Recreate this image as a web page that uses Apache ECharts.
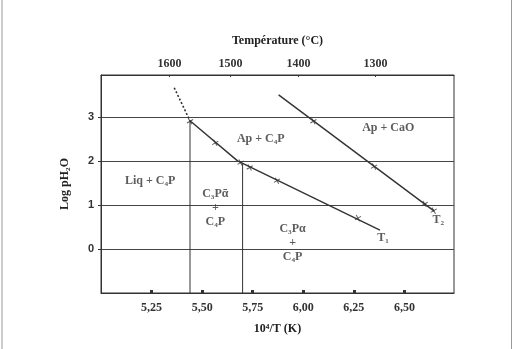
<!DOCTYPE html>
<html>
<head>
<meta charset="utf-8">
<script src="https://cdn.jsdelivr.net/npm/echarts@6/dist/echarts.min.js"></script>
<style>
  html, body { margin: 0; padding: 0; background: #fff; }
  #chart { width: 514px; height: 349px; }
</style>
</head>
<body>
<div id="chart"></div>
<script>
// axis ticks
const xTicks = [5.25, 5.5, 5.75, 6.0, 6.25, 6.5];
const yTicks = [0, 1, 2, 3];
const tempTicks = [1600, 1500, 1400, 1300];

// boundary curves (10^4/T, log pH2O)
const curve1Dotted = [[5.362, 3.66], [5.44, 2.91]];
const curve1 = [[5.44, 2.91], [5.675, 2.0], [6.379, 0.43]];
const curve1Marks = [[5.44, 2.9], [5.565, 2.41], [5.69, 1.96], [5.735, 1.85], [5.87, 1.55], [6.27, 0.7]];
const curve2 = [[5.878, 3.5], [6.647, 0.86]];
const curve2Marks = [[6.05, 2.9], [6.35, 1.87], [6.6, 1.02], [6.645, 0.87]];
const boundary1 = [[5.44, 2.91], [5.44, -1]];
const boundary2 = [[5.7, 1.94], [5.7, -1]];

// field labels
const fieldNames = ["Ap + C₄P", "Ap + CaO", "Liq + C₄P", "C₃Pᾱ\n+\nC₄P", "C₃Pα\n+\nC₄P", "T₁", "T₂"];
const fieldX = [5.79, 6.42, 5.243, 5.565, 5.947, 6.394, 6.667];
const fieldY = [2.5, 2.75, 1.55, 0.93, 0.14, 0.25, 0.66];

const serif = "'Liberation Serif', 'DejaVu Serif', serif";
const ink = "#333";

const chart = echarts.init(document.getElementById("chart"));

const plus = "path://M0,4.3H10V5.7H0Z M4.3,0H5.7V10H4.3Z";

const option = {
  animation: false,
  backgroundColor: "#fff",
  grid: {
    left: 101, top: 75, width: 353, height: 218,
    show: true, borderColor: ink, borderWidth: 1
  },
  graphic: [
    { type: "line", shape: { x1: 2, y1: 0, x2: 2, y2: 349 }, style: { stroke: "#999", lineWidth: 1 } },
    { type: "line", shape: { x1: 511.5, y1: 0, x2: 511.5, y2: 349 }, style: { stroke: "#999", lineWidth: 1 } }
  ],
  xAxis: [
    {
      type: "value", position: "bottom", min: 5, max: 6.745,
      name: "10⁴/T (K)", nameLocation: "middle", nameGap: 30,
      nameTextStyle: { fontFamily: serif, fontWeight: "bold", fontSize: 12, color: "#222" },
      axisLine: { onZero: false, lineStyle: { color: ink, width: 1 } },
      axisTick: { show: true, inside: true, length: 3, customValues: xTicks, lineStyle: { color: ink, width: 3 } },
      axisLabel: {
        customValues: xTicks, margin: 9,
        fontFamily: serif, fontWeight: "bold", fontSize: 12, color: "#333",
        formatter: v => v.toFixed(2).replace(".", ",")
      },
      splitLine: { show: false }
    },
    {
      type: "value", position: "top", min: 5, max: 6.745,
      name: "Température (°C)", nameLocation: "middle", nameGap: 28,
      nameTextStyle: { fontFamily: serif, fontWeight: "bold", fontSize: 12, color: "#222" },
      axisLine: { onZero: false, lineStyle: { color: ink, width: 1 } },
      axisTick: { show: true, inside: true, length: 2, customValues: tempTicks.map(t => 1e4 / (t + 273.15)), lineStyle: { color: ink } },
      axisLabel: {
        customValues: tempTicks.map(t => 1e4 / (t + 273.15)), margin: 5,
        fontFamily: serif, fontWeight: "bold", fontSize: 12, color: "#333",
        formatter: v => String(Math.round((1e4 / v - 273.15) / 10) * 10)
      },
      splitLine: { show: false }
    }
  ],
  yAxis: {
    type: "value", min: -1, max: 3.95, interval: 1,
    name: "Log pH₂O", nameLocation: "middle", nameGap: 30, nameRotate: 90,
    nameTextStyle: { fontFamily: serif, fontWeight: "bold", fontSize: 12, color: "#222" },
    axisLine: { onZero: false, lineStyle: { color: ink, width: 1 } },
    axisTick: { show: true, length: 3, customValues: yTicks, lineStyle: { color: ink } },
    axisLabel: {
      customValues: yTicks, margin: 7,
      fontFamily: "'Liberation Sans', Arial, sans-serif", fontWeight: "bold", fontSize: 11, color: "#333"
    },
    splitLine: { show: true, lineStyle: { color: "#444", width: 1 } }
  },
  series: [
    {
      type: "line", data: curve1Dotted, symbol: "none",
      lineStyle: { color: ink, width: 1.6, type: [2, 2] }
    },
    {
      type: "line", data: curve1, symbol: "none",
      lineStyle: { color: ink, width: 1.4 }
    },
    {
      type: "line", data: curve2, symbol: "none",
      lineStyle: { color: ink, width: 1.4 }
    },
    {
      type: "line", data: boundary1, symbol: "none",
      lineStyle: { color: ink, width: 1 }
    },
    {
      type: "line", data: boundary2, symbol: "none",
      lineStyle: { color: ink, width: 1 }
    },
    {
      type: "scatter", data: curve1Marks.concat(curve2Marks),
      symbol: plus, symbolSize: 7, symbolRotate: 30,
      itemStyle: { color: ink }
    },
    {
      type: "scatter", symbolSize: 0,
      data: fieldNames.map((n, i) => ({ name: n, value: [fieldX[i], fieldY[i]] })),
      label: {
        show: true, position: "inside", formatter: p => p.name,
        fontFamily: serif, fontWeight: "bold", fontSize: 12, lineHeight: 14, color: "#333", align: "center"
      }
    }
  ]
};

chart.setOption(option);
</script>
</body>
</html>
